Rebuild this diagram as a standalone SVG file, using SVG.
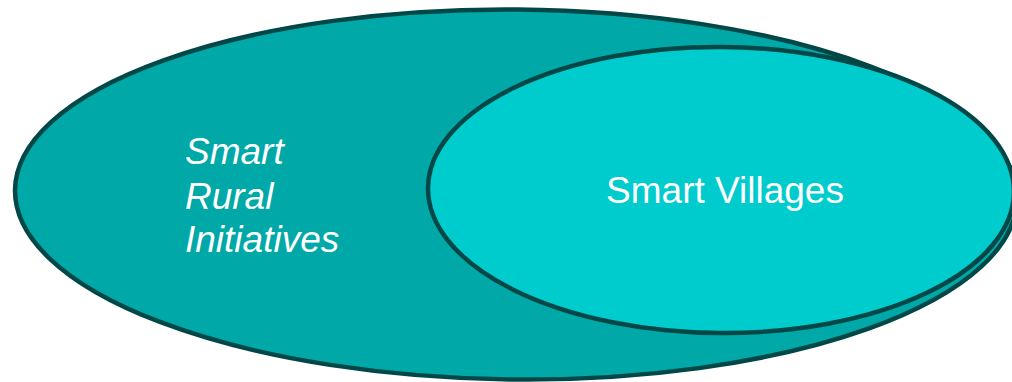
<svg xmlns="http://www.w3.org/2000/svg" width="1012" height="382" viewBox="0 0 1012 382">
<style>
.outline{stroke:#004848;stroke-width:4.5}
.lbl{font-family:"Liberation Sans",Arial,sans-serif;font-size:37px;fill:#ffffff}
</style>
<rect width="1012" height="382" fill="#ffffff"/>
<g id="smart-rural-initiatives">
<ellipse cx="516" cy="194.5" rx="501" ry="185" fill="#00A8A8" class="outline" transform="rotate(0.5 516 194.5)"/>
<text class="lbl" font-style="italic" x="185"><tspan x="185" y="164">Smart</tspan><tspan x="185" y="209">Rural</tspan><tspan x="185" y="252">Initiatives</tspan></text>
</g>
<g id="smart-villages">
<ellipse cx="721" cy="190" rx="293" ry="143" fill="#00CBCD" class="outline" transform="rotate(0.4 721 190)"/>
<text class="lbl" x="725" y="203" text-anchor="middle">Smart Villages</text>
</g>
<g id="connectors"></g>
</svg>
